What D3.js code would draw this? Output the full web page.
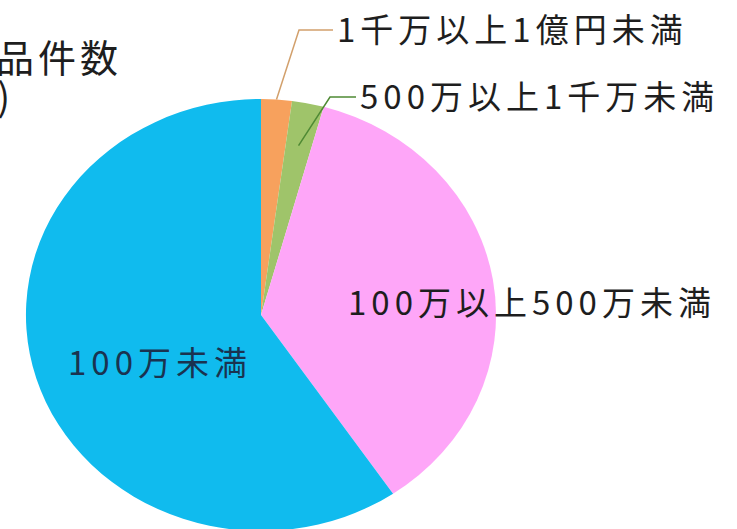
<!DOCTYPE html>
<html>
<head>
<meta charset="utf-8">
<script src="https://cdn.jsdelivr.net/npm/d3@7"></script>
<style>
  body { margin: 0; background: #fff; }
  svg { display: block; }
  text { font-family: "Noto Sans CJK JP", "Noto Sans", sans-serif; fill: #1e1e1e; }
</style>
</head>
<body>
<svg width="737" height="529"></svg>
<script>
// slices, clockwise from 12 o'clock (percent)
categories = ['1千万以上1億円未満', '500万以上1千万未満', '100万以上500万未満', '100万未満']
values = [2.1, 2.2, 36.2, 59.5]
colors = ['#f7a15d', '#9fc46a', '#fea6f8', '#10bbee']
lineColors = ['#d2a06c', '#4f8a34', null, null]

CX = 261
CY = 315
RX = 235
RY = 216
FONT = 33
SPACING = 5

// label layout: [x, y, leader end radius factor]
labelPos = [
  [337, 28, 1.0],
  [360, 95, 0.8],
  [348, 301, null],
  [68, 361, null]
]

svg = d3.select('svg')

pie = d3.pie().sort(null).value(function (d) { return d; })
arcs = pie(values)
arc = d3.arc().innerRadius(0).outerRadius(1)

g = svg.append('g')
  .attr('transform', 'translate(' + CX + ',' + CY + ') scale(' + RX + ',' + RY + ')')

g.selectAll('path')
  .data(arcs)
  .enter()
  .append('path')
  .attr('d', arc)
  .attr('fill', function (d, i) { return colors[i]; })

// leader lines for the thin slices
function edgePoint(d, k) {
  var a = (d.startAngle + d.endAngle) / 2
  return [CX + RX * k * Math.sin(a), CY - RY * k * Math.cos(a)]
}

arcs.forEach(function (d, i) {
  if (!lineColors[i]) return
  var p = labelPos[i]
  var end = edgePoint(d, p[2])
  var elbowX = p[0] - (i === 0 ? 38 : 30)
  svg.append('polyline')
    .attr('points', [[p[0] - 4, p[1] + 2], [elbowX, p[1] + 2], end].map(function (q) { return q.join(','); }).join(' '))
    .attr('fill', 'none')
    .attr('stroke', lineColors[i])
    .attr('stroke-width', 1.5)
})

svg.selectAll('text.label')
  .data(categories)
  .enter()
  .append('text')
  .classed('label', true)
  .attr('x', function (d, i) { return labelPos[i][0]; })
  .attr('y', function (d, i) { return labelPos[i][1]; })
  .attr('dominant-baseline', 'central')
  .style('font-size', FONT + 'px')
  .style('letter-spacing', SPACING + 'px')
  .style('fill', function (d, i) { return i === 3 ? '#1a3350' : '#1e1e1e'; })
  .text(function (d) { return d; })

// chart title, clipped at the left edge as in the source image
svg.append('text')
  .attr('x', -4)
  .attr('y', 55)
  .attr('dominant-baseline', 'central')
  .style('font-size', '38px')
  .style('letter-spacing', '4px')
  .text('品件数')

svg.append('text')
  .attr('x', 10)
  .attr('y', 94)
  .attr('text-anchor', 'end')
  .attr('dominant-baseline', 'central')
  .style('font-size', '38px')
  .text('(件)')
</script>
</body>
</html>
